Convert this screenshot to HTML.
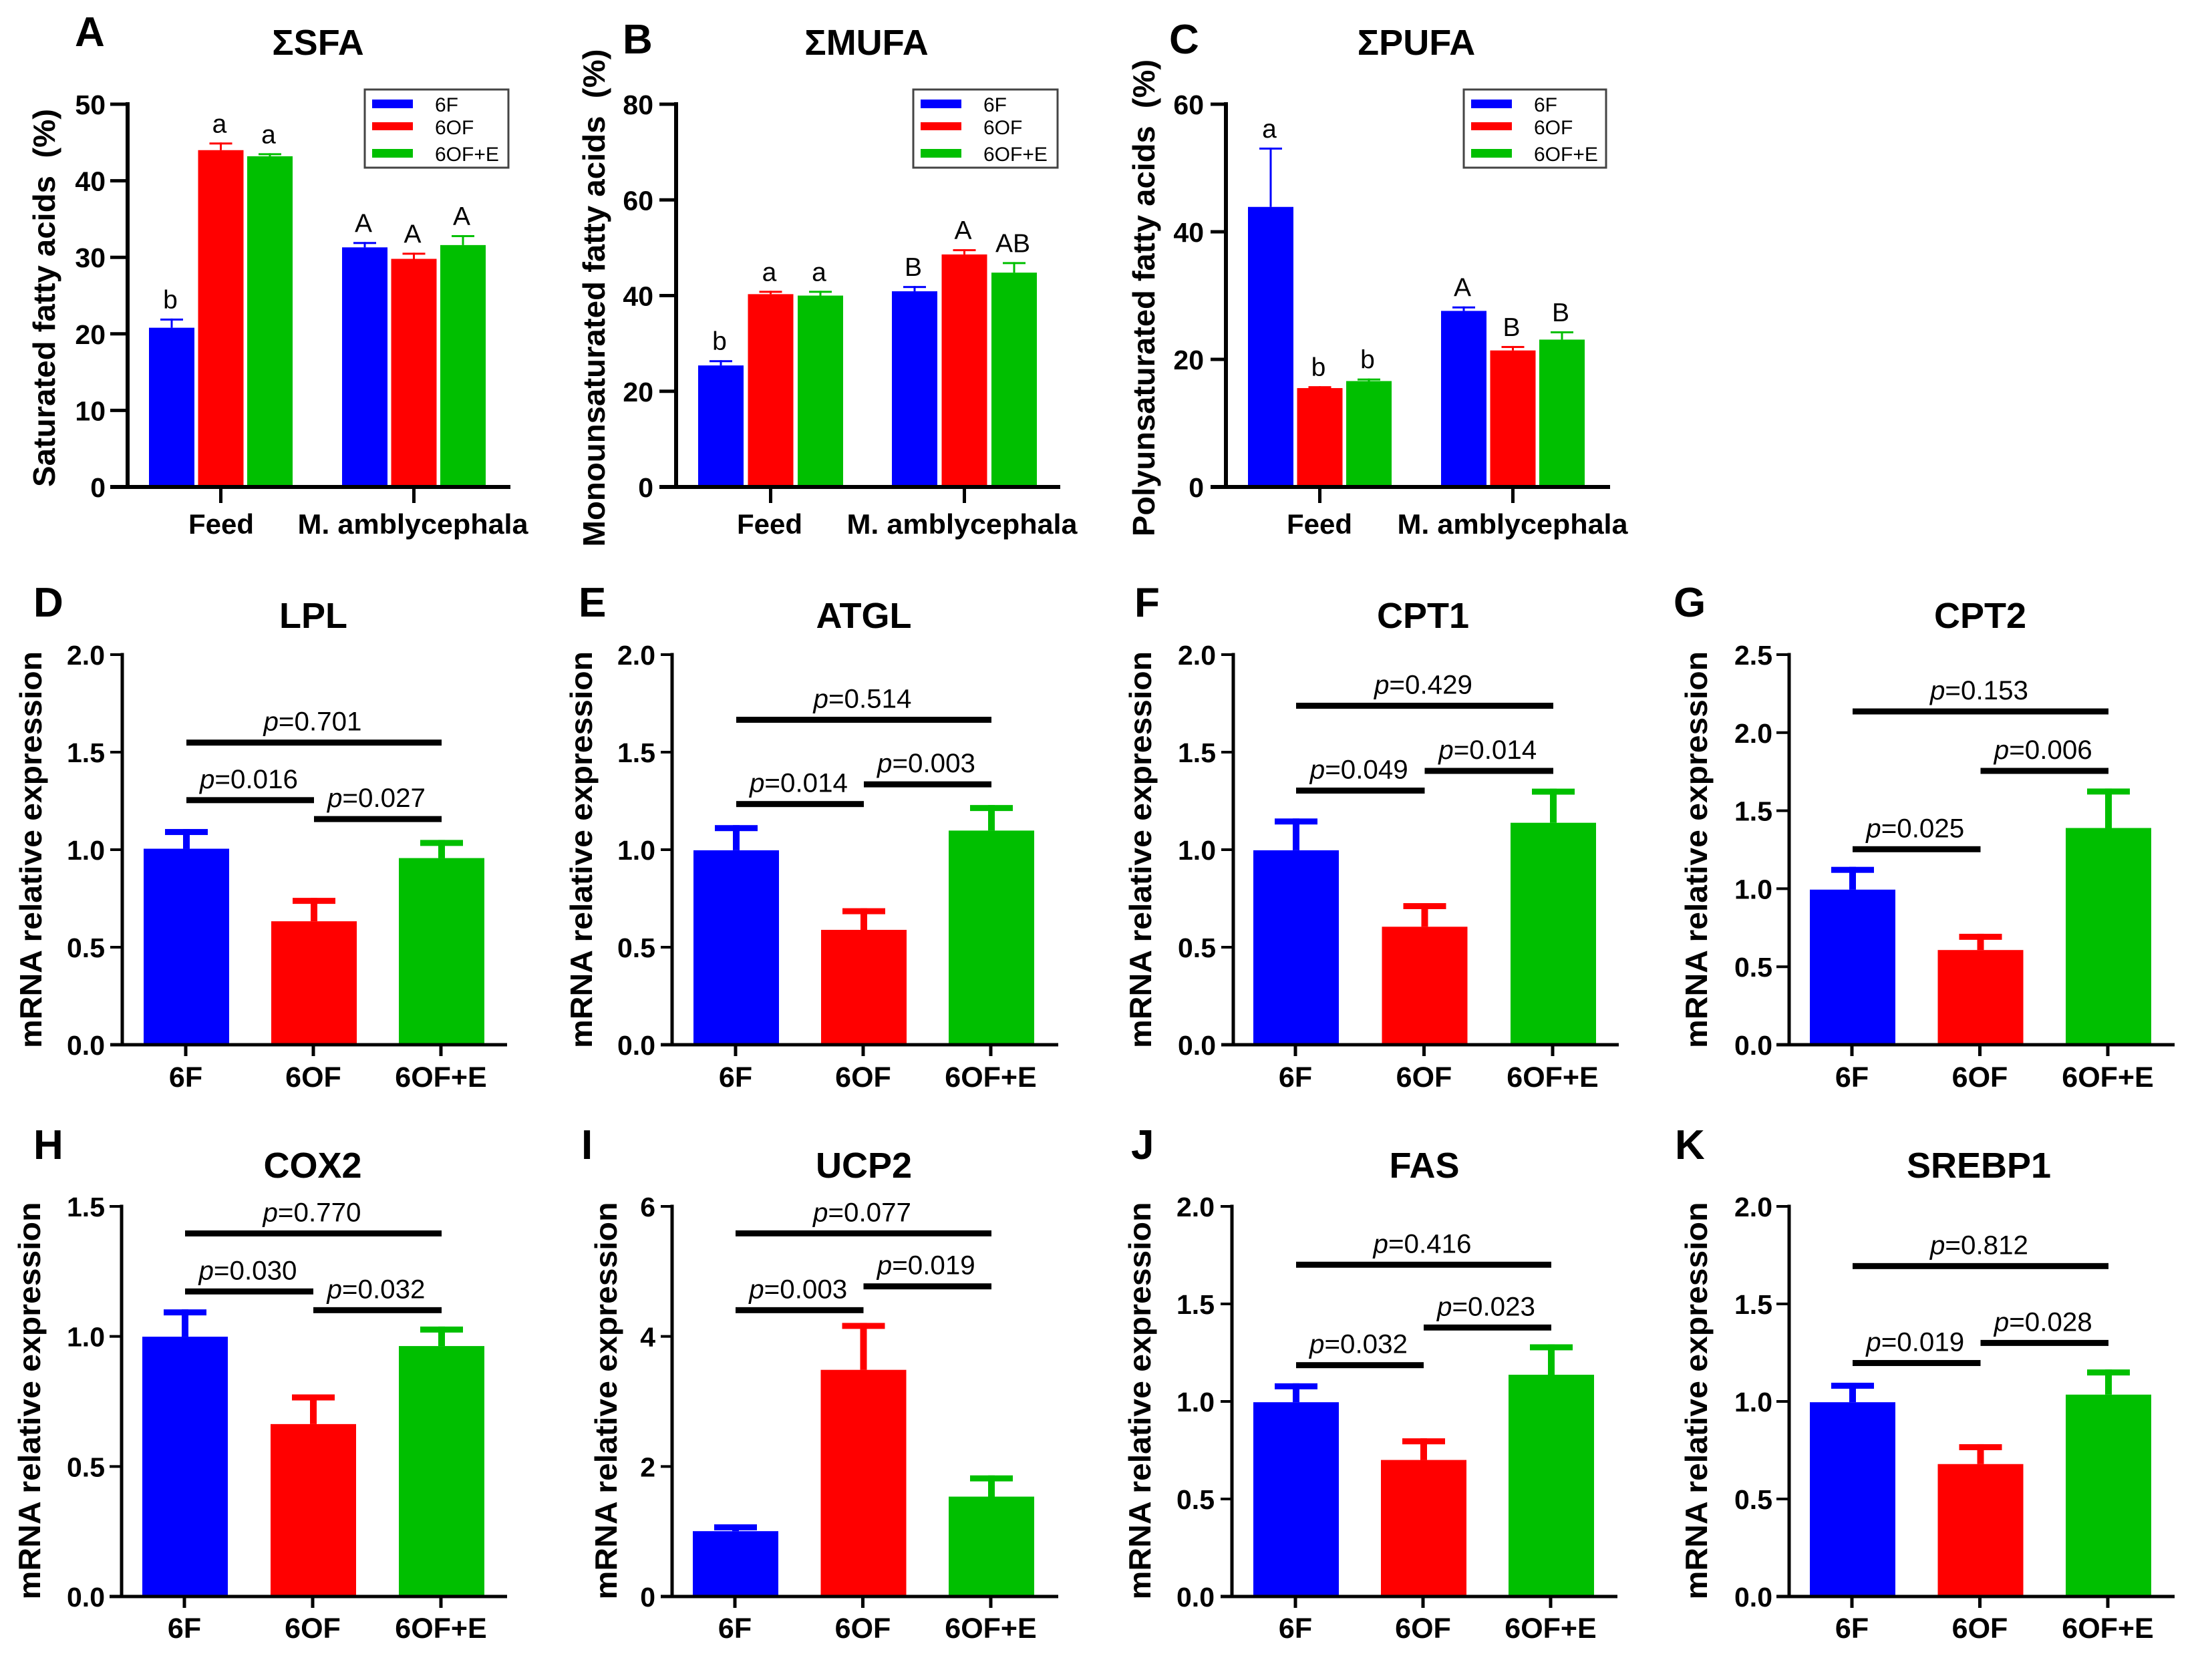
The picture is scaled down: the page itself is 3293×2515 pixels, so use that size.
<!DOCTYPE html>
<html lang="en">
<head>
<meta charset="utf-8">
<title>Fatty acid composition and mRNA relative expression</title>
<style>
html,body{margin:0;padding:0;background:#fff;}
svg{display:block;}
text{font-family:"Liberation Sans","Noto Sans CJK SC",sans-serif;fill:#000;}
</style>
</head>
<body>
<svg id="figure" xmlns="http://www.w3.org/2000/svg" width="3293" height="2515" viewBox="0 0 3293 2515"></svg>
<script>
const seriesNames = ['6F', '6OF', '6OF+E'];
const groupNames = ['Feed', 'M. amblycephala'];

const sfaTicks = ['0', '10', '20', '30', '40', '50'];
const sfaValues6F = [20.8, 31.3];
const sfaValues6OF = [44.0, 29.8];
const sfaValues6OFE = [43.2, 31.6];
const sfaErrTop6F = [22.0, 32.0];
const sfaErrTop6OF = [45.0, 30.6];
const sfaErrTop6OFE = [43.6, 32.9];
const sfaLetters6F = ['b', 'A'];
const sfaLetters6OF = ['a', 'A'];
const sfaLetters6OFE = ['a', 'A'];

const mufaTicks = ['0', '20', '40', '60', '80'];
const mufaValues6F = [25.4, 40.9];
const mufaValues6OF = [40.3, 48.6];
const mufaValues6OFE = [40.0, 44.8];
const mufaErrTop6F = [26.5, 42.0];
const mufaErrTop6OF = [41.0, 49.7];
const mufaErrTop6OFE = [41.0, 47.0];
const mufaLetters6F = ['b', 'B'];
const mufaLetters6OF = ['a', 'A'];
const mufaLetters6OFE = ['a', 'AB'];

const pufaTicks = ['0', '20', '40', '60'];
const pufaValues6F = [43.9, 27.6];
const pufaValues6OF = [15.5, 21.4];
const pufaValues6OFE = [16.6, 23.1];
const pufaErrTop6F = [53.2, 28.3];
const pufaErrTop6OF = [15.8, 22.1];
const pufaErrTop6OFE = [17.0, 24.4];
const pufaLetters6F = ['a', 'A'];
const pufaLetters6OF = ['b', 'B'];
const pufaLetters6OFE = ['b', 'B'];

const ticks2 = ['0.0', '0.5', '1.0', '1.5', '2.0'];
const ticks25 = ['0.0', '0.5', '1.0', '1.5', '2.0', '2.5'];
const ticks15 = ['0.0', '0.5', '1.0', '1.5'];
const ticks6 = ['0', '2', '4', '6'];

const lplValues = [1.005, 0.633, 0.957];
const lplErrTop = [1.106, 0.753, 1.05];
const lplSigLevels = [1.549, 1.254, 1.157];
const lplPValues = ['0.701', '0.016', '0.027'];

const atglValues = [0.997, 0.589, 1.098];
const atglErrTop = [1.126, 0.70, 1.229];
const atglSigLevels = [1.666, 1.234, 1.335];
const atglPValues = ['0.514', '0.014', '0.003'];

const cpt1Values = [0.997, 0.605, 1.138];
const cpt1ErrTop = [1.16, 0.726, 1.313];
const cpt1SigLevels = [1.738, 1.303, 1.404];
const cpt1PValues = ['0.429', '0.049', '0.014'];

const cpt2Values = [0.994, 0.607, 1.389];
const cpt2ErrTop = [1.14, 0.711, 1.642];
const cpt2SigLevels = [2.136, 1.253, 1.755];
const cpt2PValues = ['0.153', '0.025', '0.006'];

const cox2Values = [0.999, 0.663, 0.963];
const cox2ErrTop = [1.104, 0.777, 1.038];
const cox2SigLevels = [1.396, 1.173, 1.101];
const cox2PValues = ['0.770', '0.030', '0.032'];

const ucp2Values = [1.005, 3.486, 1.536];
const ucp2ErrTop = [1.11, 4.208, 1.863];
const ucp2SigLevels = [5.585, 4.404, 4.77];
const ucp2PValues = ['0.077', '0.003', '0.019'];

const fasValues = [0.996, 0.70, 1.137];
const fasErrTop = [1.093, 0.811, 1.293];
const fasSigLevels = [1.701, 1.186, 1.379];
const fasPValues = ['0.416', '0.032', '0.023'];

const srebpValues = [0.996, 0.679, 1.035];
const srebpErrTop = [1.096, 0.781, 1.164];
const srebpSigLevels = [1.694, 1.197, 1.30];
const srebpPValues = ['0.812', '0.019', '0.028'];

/* comparisons drawn for each expression panel, as category index pairs */
const sigPairs = [[0, 2], [0, 1], [1, 2]];

const seriesColors = ['#0000ff', '#ff0000', '#00bf00'];
const svg = document.getElementById('figure');
const NS = 'http://www.w3.org/2000/svg';

function mk(tag, attrs, parent, txt) {
  const el = document.createElementNS(NS, tag);
  for (const k in attrs) el.setAttribute(k, attrs[k]);
  if (txt !== undefined) el.textContent = txt;
  parent.appendChild(el);
  return el;
}

function drawAxes(g, p, yScale, ticks, axisW) {
  const yAxis = mk('line', {x1: p.axisX, x2: p.axisX, y1: p.yTop - axisW / 2, y2: p.y0 + axisW / 2, stroke: '#000', 'stroke-width': axisW}, g);
  
  
  const xAxis = mk('line', {x1: p.tickLeft, x2: p.axisEnd, y1: p.y0, y2: p.y0, stroke: '#000', 'stroke-width': axisW}, g);
  
  
  ticks.forEach(function (t) {
    const y = yScale(parseFloat(t));
    const tick = mk('line', {x1: p.tickLeft, x2: p.axisX, y1: y, y2: y, stroke: '#000', 'stroke-width': axisW - 1}, g);
    
    
    const lab = mk('text', {x: p.tickRight, y: y + 15, 'text-anchor': 'end', 'font-size': 41, 'font-weight': 'bold'}, g, t);
    
    
  });
}

function drawHeader(g, p) {
  const letter = mk('text', {x: p.letterX, y: p.letterY, 'font-size': 62, 'font-weight': 'bold'}, g, p.letter);
  
  
  const title = mk('text', {x: p.titleX, y: p.titleY, 'text-anchor': 'middle', 'font-size': 54, 'font-weight': 'bold'}, g, p.title);
  
  
  const yTitle = mk('text', {x: p.yLabelX, y: p.yLabelY, 'text-anchor': 'middle', 'font-size': 46, 'font-weight': 'bold', textLength: p.yLabelLen, lengthAdjust: 'spacingAndGlyphs', transform: 'rotate(-90 ' + p.yLabelX + ' ' + p.yLabelY + ')'}, g, p.yLabel);
  
  
}

function drawBar(g, cx, width, yTopPx, y0, errPx, color, capW, capH, stemW) {
  const stem = mk('rect', {x: cx - stemW / 2, y: errPx, width: stemW, height: Math.max(0, yTopPx - errPx), fill: color}, g);
  
  
  const cap = mk('rect', {x: cx - capW / 2, y: errPx, width: capW, height: capH, fill: color}, g);
  
  
  const bar = mk('rect', {x: cx - width / 2, y: yTopPx, width: width, height: y0 - yTopPx, fill: color}, g);
  
  
}

function drawLegend(g, p) {
  const box = mk('rect', {x: p.legX, y: 134, width: p.legW, height: 117, fill: '#fff', stroke: '#444', 'stroke-width': 3}, g);
  
  
  const swatchY = [149, 183, 223];
  const textY = [167, 201, 241];
  seriesNames.forEach(function (name, i) {
    const sw = mk('rect', {x: p.legX + 11, y: swatchY[i], width: 61, height: i === 1 ? 12 : 13, fill: seriesColors[i]}, g);
    
    
    const t = mk('text', {x: p.legX + 105, y: textY[i], 'font-size': 30}, g, name);
    
    
  });
}

function drawGroupPanel(p) {
  const g = mk('g', {}, svg);
  
  
  const maxV = parseFloat(p.ticks[p.ticks.length - 1]);
  const yScale = function (v) { return p.y0 - v / maxV * (p.y0 - p.yTop); };
  p.values.forEach(function (vals, s) {
    vals.forEach(function (v, c) {
      const cx = p.barLeft + 34 + p.groupStep * c + p.barStep * s;
      const errPx = yScale(p.errs[s][c]);
      drawBar(g, cx, 68, yScale(v), p.y0, errPx, seriesColors[s], 34, 3, 3);
      const lab = mk('text', {x: cx - 2, y: errPx - 15, 'text-anchor': 'middle', 'font-size': 39}, g, p.letters[s][c]);
      
      
    });
  });
  drawAxes(g, p, yScale, p.ticks, 6);
  groupNames.forEach(function (name, c) {
    const cx = p.barLeft + 34 + p.groupStep * c + p.barStep;
    const tick = mk('line', {x1: cx, x2: cx, y1: p.y0, y2: p.y0 + 24, stroke: '#000', 'stroke-width': 5}, g);
    
    
    const attrs = {x: p.groupLabelX[c], y: 799, 'text-anchor': 'middle', 'font-size': 42, 'font-weight': 'bold'};
    if (c === 1) { attrs.textLength = 345; attrs.lengthAdjust = 'spacingAndGlyphs'; }
    const lab = mk('text', attrs, g, name);
    
    
  });
  drawLegend(g, p);
  drawHeader(g, p);
}

function drawExprPanel(p) {
  const g = mk('g', {}, svg);
  
  
  const maxV = parseFloat(p.ticks[p.ticks.length - 1]);
  const yScale = function (v) { return p.y0 - v / maxV * (p.y0 - p.yTop); };
  const xCenter = function (i) { return p.cx0 + p.step * i; };
  p.values.forEach(function (v, i) {
    drawBar(g, xCenter(i), 128, yScale(v), p.y0, yScale(p.errs[i]), seriesColors[i], 64, 9, 10);
  });
  drawAxes(g, p, yScale, p.ticks, 5);
  seriesNames.forEach(function (name, i) {
    const cx = xCenter(i) - 1;
    const tick = mk('line', {x1: cx, x2: cx, y1: p.y0, y2: p.y0 + 17, stroke: '#000', 'stroke-width': 5}, g);
    
    
    const lab = mk('text', {x: cx, y: p.xLabelY, 'text-anchor': 'middle', 'font-size': 43, 'font-weight': 'bold'}, g, name);
    
    
  });
  sigPairs.forEach(function (pair, k) {
    const y = yScale(p.sig[k]);
    const x1 = xCenter(pair[0]);
    const x2 = xCenter(pair[1]);
    const line = mk('rect', {x: x1, y: y - 4.5, width: x2 - x1, height: 9, fill: '#000'}, g);
    
    
    const t = mk('text', {x: (x1 + x2) / 2 - 2, y: y - 18, 'text-anchor': 'middle', 'font-size': 40, textLength: 147, lengthAdjust: 'spacingAndGlyphs'}, g);
    
    
    mk('tspan', {'font-style': 'italic'}, t, 'p');
    mk('tspan', {}, t, '=' + p.pv[k]);
  });
  drawHeader(g, p);
}

const satLabel = 'Saturated fatty acids\u00A0\u00A0(%)';
const monoLabel = 'Monounsaturated fatty acids\u00A0\u00A0(%)';
const polyLabel = 'Polyunsaturated fatty acids\u00A0\u00A0(%)';
const exprLabel = 'mRNA relative expression';

drawGroupPanel({letter: 'A', letterX: 112, letterY: 69, title: 'ΣSFA', titleX: 476, titleY: 82,
  yLabel: satLabel, yLabelX: 82, yLabelY: 446, yLabelLen: 566,
  axisX: 191, tickLeft: 165, tickRight: 158, axisEnd: 764, yTop: 156, y0: 729,
  barLeft: 223, barStep: 73.5, groupStep: 289, groupLabelX: [331, 618], legX: 546, legW: 215,
  ticks: sfaTicks, values: [sfaValues6F, sfaValues6OF, sfaValues6OFE],
  errs: [sfaErrTop6F, sfaErrTop6OF, sfaErrTop6OFE], letters: [sfaLetters6F, sfaLetters6OF, sfaLetters6OFE]});

drawGroupPanel({letter: 'B', letterX: 932, letterY: 80, title: 'ΣMUFA', titleX: 1297, titleY: 82,
  yLabel: monoLabel, yLabelX: 905, yLabelY: 446, yLabelLen: 745,
  axisX: 1012, tickLeft: 987, tickRight: 978, axisEnd: 1587, yTop: 156, y0: 729,
  barLeft: 1045, barStep: 74.5, groupStep: 290, groupLabelX: [1152, 1440], legX: 1367, legW: 216,
  ticks: mufaTicks, values: [mufaValues6F, mufaValues6OF, mufaValues6OFE],
  errs: [mufaErrTop6F, mufaErrTop6OF, mufaErrTop6OFE], letters: [mufaLetters6F, mufaLetters6OF, mufaLetters6OFE]});

drawGroupPanel({letter: 'C', letterX: 1750, letterY: 80, title: 'ΣPUFA', titleX: 2120, titleY: 82,
  yLabel: polyLabel, yLabelX: 1728, yLabelY: 446, yLabelLen: 714,
  axisX: 1835, tickLeft: 1812, tickRight: 1802, axisEnd: 2410, yTop: 156, y0: 729,
  barLeft: 1868, barStep: 73.5, groupStep: 289, groupLabelX: [1975, 2264], legX: 2191, legW: 213,
  ticks: pufaTicks, values: [pufaValues6F, pufaValues6OF, pufaValues6OFE],
  errs: [pufaErrTop6F, pufaErrTop6OF, pufaErrTop6OFE], letters: [pufaLetters6F, pufaLetters6OF, pufaLetters6OFE]});

const row2 = {yTop: 980, y0: 1564, titleY: 940, letterY: 923, xLabelY: 1627, yLabel: exprLabel, yLabelY: 1272, yLabelLen: 594};
const row3 = {yTop: 1806, y0: 2390, titleY: 1763, letterY: 1735, xLabelY: 2452, yLabel: exprLabel, yLabelY: 2097, yLabelLen: 595};

drawExprPanel(Object.assign({}, row2, {letter: 'D', letterX: 50, title: 'LPL', titleX: 469, yLabelX: 62,
  axisX: 183, tickLeft: 165, tickRight: 157, axisEnd: 759, cx0: 279, step: 191,
  ticks: ticks2, values: lplValues, errs: lplErrTop, sig: lplSigLevels, pv: lplPValues}));
drawExprPanel(Object.assign({}, row2, {letter: 'E', letterX: 866, title: 'ATGL', titleX: 1293, yLabelX: 886,
  axisX: 1006, tickLeft: 989, tickRight: 981, axisEnd: 1584, cx0: 1102, step: 191,
  ticks: ticks2, values: atglValues, errs: atglErrTop, sig: atglSigLevels, pv: atglPValues}));
drawExprPanel(Object.assign({}, row2, {letter: 'F', letterX: 1698, title: 'CPT1', titleX: 2130, yLabelX: 1723,
  axisX: 1846, tickLeft: 1828, tickRight: 1820, axisEnd: 2423, cx0: 1940, step: 192.5,
  ticks: ticks2, values: cpt1Values, errs: cpt1ErrTop, sig: cpt1SigLevels, pv: cpt1PValues}));
drawExprPanel(Object.assign({}, row2, {letter: 'G', letterX: 2505, title: 'CPT2', titleX: 2964, yLabelX: 2555,
  axisX: 2678, tickLeft: 2659, tickRight: 2653, axisEnd: 3255, cx0: 2773, step: 191.5,
  ticks: ticks25, values: cpt2Values, errs: cpt2ErrTop, sig: cpt2SigLevels, pv: cpt2PValues}));
drawExprPanel(Object.assign({}, row3, {letter: 'H', letterX: 50, title: 'COX2', titleX: 468, yLabelX: 60,
  axisX: 182, tickLeft: 164, tickRight: 157, axisEnd: 759, cx0: 277, step: 192,
  ticks: ticks15, values: cox2Values, errs: cox2ErrTop, sig: cox2SigLevels, pv: cox2PValues}));
drawExprPanel(Object.assign({}, row3, {letter: 'I', letterX: 870, title: 'UCP2', titleX: 1293, yLabelX: 923,
  axisX: 1006, tickLeft: 989, tickRight: 981, axisEnd: 1584, cx0: 1101, step: 191.5,
  ticks: ticks6, values: ucp2Values, errs: ucp2ErrTop, sig: ucp2SigLevels, pv: ucp2PValues}));
drawExprPanel(Object.assign({}, row3, {letter: 'J', letterX: 1693, title: 'FAS', titleX: 2132, yLabelX: 1722,
  axisX: 1844, tickLeft: 1827, tickRight: 1818, axisEnd: 2421, cx0: 1940, step: 191,
  ticks: ticks2, values: fasValues, errs: fasErrTop, sig: fasSigLevels, pv: fasPValues}));
drawExprPanel(Object.assign({}, row3, {letter: 'K', letterX: 2507, title: 'SREBP1', titleX: 2962, yLabelX: 2555,
  axisX: 2678, tickLeft: 2659, tickRight: 2653, axisEnd: 3255, cx0: 2773, step: 191.5,
  ticks: ticks2, values: srebpValues, errs: srebpErrTop, sig: srebpSigLevels, pv: srebpPValues}));
</script>
</body>
</html>
